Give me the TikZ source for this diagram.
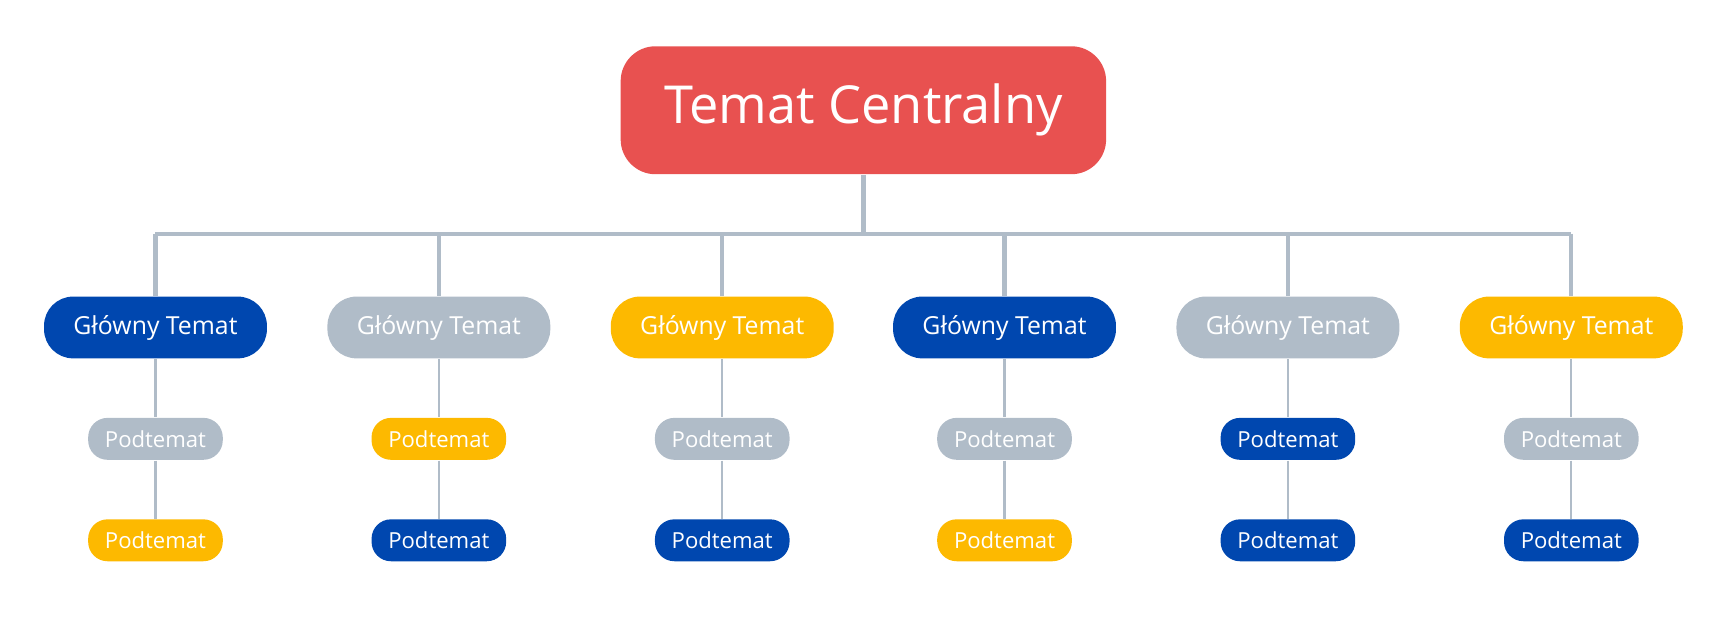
\documentclass[tikz,border=0pt]{standalone}
\usepackage{fontspec}
\setmainfont{Open Sans}
\usetikzlibrary{positioning}
\definecolor{cred}{HTML}{E85150}
\definecolor{cblue}{HTML}{0047AF}
\definecolor{cgray}{HTML}{B0BCC8}
\definecolor{cyellow}{HTML}{FDB900}
\begin{document}
\begin{tikzpicture}[x=0.01cm, y=-0.01cm,
  main/.style={rounded corners=7.5pt, minimum width=2.02cm, minimum height=0.56cm, text=white, font=\fontsize{6.4}{7}\selectfont, inner sep=0pt},
  sub/.style={rounded corners=5pt, minimum width=1.22cm, minimum height=0.38cm, text=white, font=\fontsize{5.7}{7}\selectfont, inner sep=0pt},
  bus/.style={cgray, line width=1.1pt},
  link/.style={cgray, line width=0.6pt}]
\useasboundingbox (0,0) rectangle (1568,565);
\node[fill=cred, rounded corners=9pt, minimum width=4.4cm, minimum height=1.16cm, text=white, font=\fontsize{13.5}{15}\selectfont] (c) at (783,100) {\raisebox{-1pt}{Temat Centralny}};
\coordinate (j) at (783,212);
\draw[bus] (c) -- (j);
\draw[bus] (141,212) -- (1425,212);
% main topics, first and second subtopics
\foreach \i/\x/\cm/\ca/\cb in {1/141/cblue/cgray/cyellow, 2/398/cgray/cyellow/cblue,
    3/655/cyellow/cgray/cblue, 4/911/cblue/cgray/cyellow,
    5/1168/cgray/cblue/cblue, 6/1425/cyellow/cgray/cblue} {
  \coordinate (t\i) at (\x,212);
  \node[main, fill=\cm] (m\i) at (\x,297) {\raisebox{-0.6pt}{Główny Temat}};
  \node[sub, fill=\ca] (a\i) at (\x,398) {\raisebox{-0.4pt}{Podtemat}};
  \node[sub, fill=\cb] (b\i) at (\x,490) {\raisebox{-0.4pt}{Podtemat}};
  \draw[bus] (t\i) -- (m\i);
  \draw[link] (m\i) -- (a\i);
  \draw[link] (a\i) -- (b\i);
}
\end{tikzpicture}
\end{document}
